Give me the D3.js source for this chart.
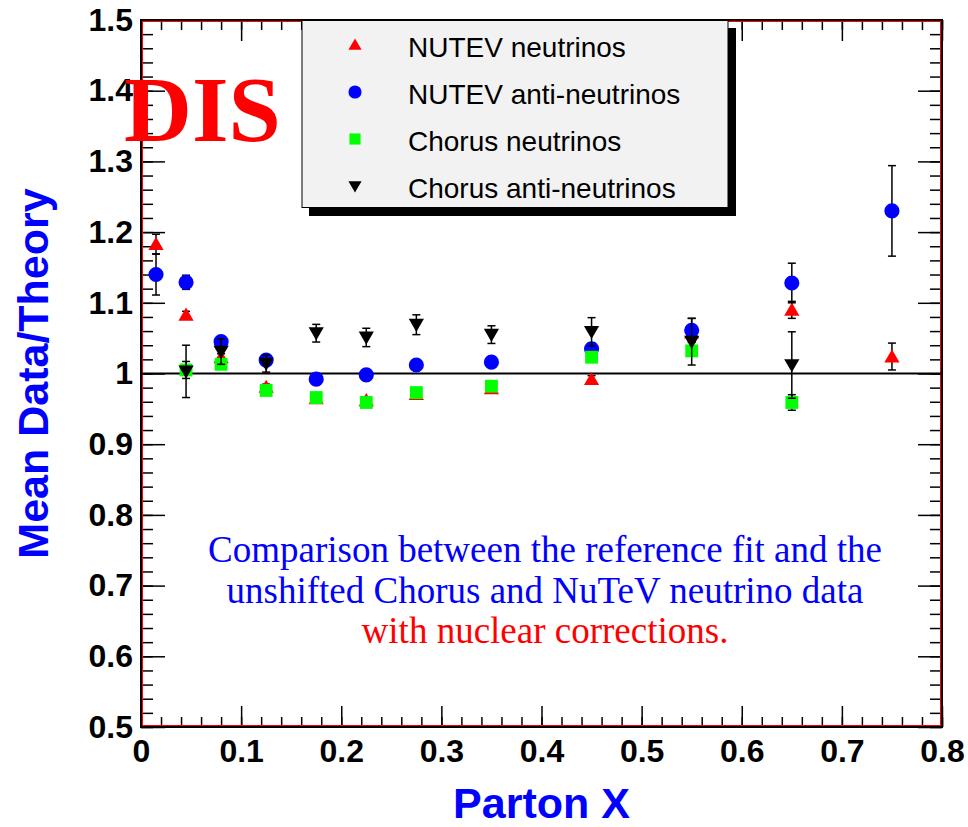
<!DOCTYPE html>
<html>
<head>
<meta charset="utf-8">
<script src="https://cdn.jsdelivr.net/npm/d3@7"></script>
<style>
  html, body { margin: 0; padding: 0; background: #fff; }
  svg { display: block; }
</style>
</head>
<body>
<svg id="chart" width="968" height="827"></svg>
<script>
// Parton x bins
const xNutev  = [0.015, 0.045, 0.08, 0.125, 0.175, 0.225, 0.275, 0.35, 0.45, 0.55, 0.65, 0.75];
const xChorus = [0.045, 0.08, 0.125, 0.175, 0.225, 0.275, 0.35, 0.45, 0.55, 0.65];

// Mean data/theory ratios and their errors
const nutevNu      = [1.183, 1.083, 1.023, 0.981, 0.965, 0.962, 0.971, 0.979, 0.992, 1.058, 1.090, 1.024];
const nutevNuErr   = [0.014, 0.005, 0.005, 0.004, 0.004, 0.004, 0.004, 0.004, 0.005, 0.008, 0.012, 0.019];
const nutevNub     = [1.140, 1.129, 1.045, 1.019, 0.992, 0.998, 1.012, 1.016, 1.035, 1.061, 1.128, 1.230];
const nutevNubErr  = [0.029, 0.010, 0.006, 0.005, 0.005, 0.005, 0.005, 0.006, 0.008, 0.017, 0.028, 0.064];
const chorusNu     = [1.005, 1.013, 0.976, 0.966, 0.959, 0.973, 0.982, 1.023, 1.032, 0.959];
const chorusNuErr  = [0.012, 0.006, 0.004, 0.004, 0.004, 0.004, 0.004, 0.005, 0.006, 0.011];
const chorusNub    = [1.003, 1.031, 1.014, 1.057, 1.051, 1.069, 1.055, 1.059, 1.045, 1.012];
const chorusNubErr = [0.037, 0.018, 0.012, 0.0125, 0.013, 0.014, 0.0125, 0.020, 0.033, 0.047];

const xTicks = [0, 0.1, 0.2, 0.3, 0.4, 0.5, 0.6, 0.7, 0.8];
const yTicks = [0.5, 0.6, 0.7, 0.8, 0.9, 1, 1.1, 1.2, 1.3, 1.4, 1.5];
const xMinor = d3.range(0, 0.8001, 0.02);
const yMinor = d3.range(0.5, 1.5001, 0.02);

const legendLabels = ["NUTEV neutrinos", "NUTEV anti-neutrinos", "Chorus neutrinos", "Chorus anti-neutrinos"];
const noteLines = [
  {text: "Comparison between the reference fit and the", color: "#0000ff"},
  {text: "unshifted Chorus and NuTeV neutrino data", color: "#0000ff"},
  {text: "with nuclear corrections.", color: "#ff0000"}
];

const series = [
  {name: legendLabels[0], xs: xNutev,  ys: nutevNu,   es: nutevNuErr,   color: "#ff0000", sym: d3.symbolTriangle, size: 100, rot: 0},
  {name: legendLabels[1], xs: xNutev,  ys: nutevNub,  es: nutevNubErr,  color: "#0000ff", sym: d3.symbolCircle,   size: 180, rot: 0},
  {name: legendLabels[2], xs: xChorus, ys: chorusNu,  es: chorusNuErr,  color: "#00ff00", sym: d3.symbolSquare,   size: 165, rot: 0},
  {name: legendLabels[3], xs: xChorus, ys: chorusNub, es: chorusNubErr, color: "#000000", sym: d3.symbolTriangle, size: 100, rot: 180}
];

const svg = d3.select("#chart");
const L = 141, R = 942, T = 20, B = 727;
const x = d3.scaleLinear().domain([0, 0.8]).range([L, R]);
const y = d3.scaleLinear().domain([0.5, 1.5]).range([B, T]);

const sans = "'Liberation Sans', Arial, Helvetica, sans-serif";
const serif = "'Liberation Serif', 'Times New Roman', serif";

svg.append("rect").attr("width", 968).attr("height", 827).attr("fill", "#fff");

// Axes with inward major and minor ticks on all four sides
function styleAxis(g) {
  g.select(".domain").remove();
  g.selectAll(".tick line").attr("stroke", "#000").attr("stroke-width", 1.5);
}
const fmt = d => d === 0 ? "0" : d3.format("")(+d.toFixed(1));

svg.append("g").attr("transform", `translate(0,${B})`)
  .call(d3.axisBottom(x).tickValues(xMinor).tickSize(-10).tickFormat(""))
  .call(styleAxis);
svg.append("g").attr("transform", `translate(0,${B})`)
  .call(d3.axisBottom(x).tickValues(xTicks).tickSize(-21).tickPadding(12).tickFormat(fmt))
  .call(styleAxis)
  .call(g => g.selectAll("text").attr("font-family", sans).attr("font-weight", "bold")
    .attr("font-size", 32).attr("fill", "#000"));
svg.append("g").attr("transform", `translate(0,${T})`)
  .call(d3.axisTop(x).tickValues(xMinor).tickSize(-10).tickFormat(""))
  .call(styleAxis);
svg.append("g").attr("transform", `translate(0,${T})`)
  .call(d3.axisTop(x).tickValues(xTicks).tickSize(-21).tickFormat(""))
  .call(styleAxis);

svg.append("g").attr("transform", `translate(${L},0)`)
  .call(d3.axisLeft(y).tickValues(yMinor).tickSize(-12).tickFormat(""))
  .call(styleAxis);
svg.append("g").attr("transform", `translate(${L},0)`)
  .call(d3.axisLeft(y).tickValues(yTicks).tickSize(-24).tickPadding(8).tickFormat(fmt))
  .call(styleAxis)
  .call(g => g.selectAll("text").attr("font-family", sans).attr("font-weight", "bold")
    .attr("font-size", 32).attr("fill", "#000"));
svg.append("g").attr("transform", `translate(${R},0)`)
  .call(d3.axisRight(y).tickValues(yMinor).tickSize(-12).tickFormat(""))
  .call(styleAxis);
svg.append("g").attr("transform", `translate(${R},0)`)
  .call(d3.axisRight(y).tickValues(yTicks).tickSize(-24).tickFormat(""))
  .call(styleAxis);

// Frame: black axis lines with a red pad border just inside
svg.append("rect").attr("x", L).attr("y", T).attr("width", R - L).attr("height", B - T)
  .attr("fill", "none").attr("stroke", "#000").attr("stroke-width", 2);
svg.append("rect").attr("x", L + 1.5).attr("y", T + 1.5).attr("width", R - L - 3).attr("height", B - T - 3)
  .attr("fill", "none").attr("stroke", "#ff0000").attr("stroke-width", 1);

// Reference line at ratio 1
svg.append("line").attr("x1", x(0)).attr("x2", x(0.8)).attr("y1", y(1)).attr("y2", y(1))
  .attr("stroke", "#000").attr("stroke-width", 2);

// Axis titles
svg.append("text").attr("x", (L + R) / 2).attr("y", 818).attr("text-anchor", "middle")
  .attr("font-family", sans).attr("font-weight", "bold").attr("font-size", 43)
  .attr("fill", "#0000ff").text("Parton X");
svg.append("text").attr("transform", `translate(48,${(T + B) / 2}) rotate(-90)`)
  .attr("text-anchor", "middle")
  .attr("font-family", sans).attr("font-weight", "bold").attr("font-size", 43)
  .attr("fill", "#0000ff").text("Mean Data/Theory");

// Data: error bars then markers, one series at a time
const capW = 4;
series.forEach(s => {
  const pts = s.xs.map((xv, i) => ({x: xv, y: s.ys[i], e: s.es[i]}));
  const g = svg.append("g");
  const eb = g.selectAll(".eb").data(pts).join("g");
  eb.append("line").attr("x1", d => x(d.x)).attr("x2", d => x(d.x))
    .attr("y1", d => y(d.y + d.e)).attr("y2", d => y(d.y - d.e))
    .attr("stroke", "#000").attr("stroke-width", 1.5);
  [1, -1].forEach(sg => {
    eb.append("line").attr("x1", d => x(d.x) - capW).attr("x2", d => x(d.x) + capW)
      .attr("y1", d => y(d.y + sg * d.e)).attr("y2", d => y(d.y + sg * d.e))
      .attr("stroke", "#000").attr("stroke-width", 1.5);
  });
  const sym = d3.symbol().type(s.sym).size(s.size);
  g.selectAll(".mk").data(pts).join("path")
    .attr("d", sym)
    .attr("transform", d => `translate(${x(d.x)},${y(d.y) + (s.sym === d3.symbolTriangle ? (s.rot ? -1.5 : 1.5) : 0)}) rotate(${s.rot})`)
    .attr("fill", s.color);
});

// DIS label
svg.append("text").attr("x", 124).attr("y", 141)
  .attr("font-family", serif).attr("font-weight", "bold").attr("font-size", 94)
  .attr("fill", "#ff0000").text("DIS");

// Note
svg.append("g").selectAll("text").data(noteLines).join("text")
  .attr("x", 545).attr("y", (d, i) => 562 + i * 40.5)
  .attr("text-anchor", "middle")
  .attr("font-family", serif).attr("font-size", 37)
  .attr("fill", d => d.color).text(d => d.text);

// Legend with drop shadow
const lg = svg.append("g");
lg.append("rect").attr("x", 309).attr("y", 28).attr("width", 427).attr("height", 188).attr("fill", "#000");
lg.append("rect").attr("x", 302).attr("y", 20.5).attr("width", 426).attr("height", 187)
  .attr("fill", "#f2f2f2").attr("stroke", "#000").attr("stroke-width", 1);
const rowY = [45, 92, 139, 186];
series.forEach((s, i) => {
  lg.append("path")
    .attr("d", d3.symbol().type(s.sym).size(s.size * 0.75)())
    .attr("transform", `translate(355,${rowY[i] + (s.sym === d3.symbolTriangle ? (s.rot ? -1 : 1) : 0)}) rotate(${s.rot})`)
    .attr("fill", s.color);
  lg.append("text").attr("x", 408).attr("y", rowY[i] + 11.5)
    .attr("font-family", sans).attr("font-size", 28).attr("fill", "#000")
    .text(s.name);
});
</script>
</body>
</html>
